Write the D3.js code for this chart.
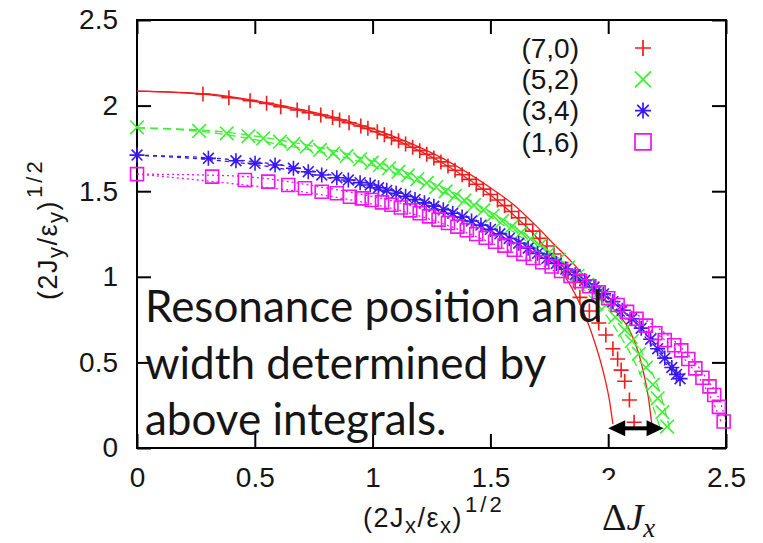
<!DOCTYPE html>
<html>
<head>
<meta charset="utf-8">
<script src="https://cdn.jsdelivr.net/npm/d3@7"></script>
<style>
body { margin: 0; background: #fff; }
svg { display: block; }
text { font-family: "Liberation Sans", Arial, sans-serif; fill: #151515; }
</style>
</head>
<body>
<svg></svg>
<script>
// series labels and colours
const seriesNames = ["(7,0)", "(5,2)", "(3,4)", "(1,6)"];
const seriesColors = ["#f01c1c", "#3cf032", "#3a18f2", "#f014f0"];
const seriesMarkers = ["plus", "times", "star", "square"];
const seriesDash = [null, "8,5", "4,4", "2,3"];

const xTicks = [0, 0.5, 1, 1.5, 2, 2.5];
const yTicks = [0, 0.5, 1, 1.5, 2, 2.5];

// (7,0) points
const redX = [0.28,0.39,0.48,0.55,0.61,0.68,0.73,0.78,0.83,0.86,0.90,0.95,0.98,1.02,1.05,1.08,1.11,1.14,1.17,1.20,1.23,1.26,1.29,1.32,1.35,1.38,1.41,1.44,1.47,1.50,1.53,1.56,1.59,1.62,1.65,1.68,1.71,1.74,1.77,1.80,1.83,1.86,1.88,1.92,1.96,1.99,2.02,2.04,2.055,2.07,2.09,2.11];
const redY = [2.068,2.046,2.029,2.013,1.994,1.974,1.958,1.945,1.930,1.916,1.900,1.881,1.867,1.847,1.830,1.812,1.795,1.776,1.757,1.737,1.716,1.694,1.671,1.647,1.622,1.596,1.569,1.541,1.512,1.481,1.449,1.416,1.381,1.345,1.307,1.267,1.225,1.180,1.133,1.083,1.028,0.968,0.88,0.80,0.73,0.66,0.58,0.52,0.455,0.39,0.28,0.15];
const redUpper = [[0,2.085],[0.3,2.068],[0.6,2.004],[0.9,1.908],[1.1,1.815],[1.3,1.69],[1.5,1.52],[1.6,1.42],[1.7,1.29],[1.77,1.19],[1.85,1.08],[1.92,0.97],[2.0,0.84],[2.05,0.77],[2.09,0.69],[2.13,0.55],[2.15,0.44],[2.17,0.3],[2.185,0.14]];
const redLower = [[0,2.085],[0.3,2.064],[0.6,1.997],[0.9,1.898],[1.1,1.798],[1.3,1.662],[1.5,1.478],[1.6,1.36],[1.7,1.225],[1.8,1.04],[1.87,0.87],[1.93,0.67],[1.98,0.44],[2.005,0.28],[2.02,0.14]];

// (5,2) points
const greenX = [0,0.264,0.381,0.473,0.536,0.607,0.664,0.72,0.777,0.833,0.89,0.947,0.996,1.031,1.07,1.11,1.15,1.19,1.23,1.27,1.31,1.35,1.39,1.43,1.47,1.51,1.55,1.59,1.63,1.67,1.71,1.75,1.79,1.83,1.87,1.91,1.95,1.99,2.03,2.07,2.10,2.13,2.16,2.19,2.21,2.23,2.25];
const greenY = [1.873,1.852,1.838,1.822,1.809,1.789,1.776,1.760,1.741,1.721,1.706,1.686,1.667,1.653,1.634,1.614,1.593,1.571,1.548,1.524,1.499,1.473,1.446,1.418,1.389,1.358,1.326,1.293,1.258,1.221,1.183,1.143,1.100,1.055,1.006,0.953,0.896,0.834,0.765,0.69,0.625,0.55,0.47,0.37,0.29,0.21,0.125];
const greenUpper = [[0,1.87],[0.3,1.855],[0.6,1.80],[0.9,1.715],[1.2,1.58],[1.5,1.38],[1.7,1.20],[1.9,0.98],[2.05,0.76],[2.15,0.54],[2.22,0.32],[2.26,0.12]];
const greenLower = [[0,1.87],[0.3,1.845],[0.6,1.775],[0.9,1.69],[1.2,1.55],[1.5,1.35],[1.7,1.16],[1.9,0.92],[2.03,0.70],[2.12,0.48],[2.18,0.28],[2.22,0.12]];

// (3,4) points
const blueX = [0,0.303,0.42,0.501,0.586,0.664,0.727,0.784,0.848,0.897,0.947,0.99,1.025,1.06,1.10,1.14,1.18,1.22,1.26,1.30,1.34,1.38,1.42,1.46,1.50,1.54,1.58,1.62,1.66,1.70,1.74,1.78,1.82,1.86,1.90,1.94,1.98,2.02,2.06,2.10,2.14,2.18,2.21,2.24,2.27,2.29,2.305];
const blueY = [1.711,1.692,1.678,1.663,1.653,1.634,1.614,1.595,1.579,1.565,1.550,1.536,1.520,1.505,1.488,1.470,1.451,1.432,1.412,1.392,1.371,1.349,1.326,1.302,1.277,1.251,1.224,1.196,1.167,1.137,1.108,1.078,1.045,1.012,0.978,0.94,0.90,0.855,0.805,0.755,0.70,0.635,0.58,0.525,0.47,0.43,0.405];
const blueUpper = [[0,1.71],[0.3,1.695],[0.6,1.655],[0.9,1.57],[1.2,1.455],[1.5,1.29],[1.8,1.08],[2.0,0.89],[2.15,0.70],[2.25,0.53],[2.31,0.40]];
const blueLower = [[0,1.71],[0.3,1.685],[0.6,1.635],[0.9,1.55],[1.2,1.435],[1.5,1.265],[1.8,1.05],[2.0,0.85],[2.15,0.66],[2.24,0.50],[2.30,0.40]];

// (1,6) points
const magentaX = [0,0.319,0.458,0.557,0.642,0.713,0.784,0.848,0.904,0.954,0.996,1.04,1.08,1.12,1.16,1.20,1.24,1.28,1.32,1.36,1.40,1.44,1.48,1.52,1.56,1.60,1.64,1.68,1.72,1.76,1.80,1.84,1.88,1.92,1.96,2.00,2.04,2.08,2.12,2.16,2.20,2.24,2.28,2.31,2.34,2.37,2.40,2.43,2.45,2.47,2.49];
const magentaY = [1.600,1.585,1.565,1.556,1.536,1.517,1.497,1.488,1.468,1.458,1.449,1.435,1.421,1.405,1.388,1.371,1.353,1.334,1.314,1.293,1.272,1.250,1.228,1.205,1.182,1.158,1.134,1.110,1.085,1.060,1.034,1.005,0.975,0.945,0.91,0.875,0.835,0.795,0.755,0.715,0.67,0.63,0.60,0.57,0.52,0.465,0.41,0.36,0.31,0.24,0.155];
const magentaUpper = [[0,1.60],[0.4,1.59],[0.8,1.52],[1.2,1.40],[1.6,1.19],[1.9,0.99],[2.1,0.80],[2.3,0.60],[2.42,0.40],[2.48,0.25],[2.5,0.15]];
const magentaLower = [[0,1.60],[0.4,1.545],[0.8,1.475],[1.2,1.355],[1.6,1.14],[1.9,0.94],[2.1,0.76],[2.3,0.555],[2.4,0.38],[2.46,0.22],[2.48,0.15]];

// annotation
const noteLines = ["Resonance position and", "width determined by", "above integrals."];
const arrowX = [2.0, 2.235];
const arrowY = 0.115;

const width = 763;
const height = 543;
const marginLeft = 137;
const marginTop = 20;
const plotW = 589;
const plotH = 428;

let svg = d3.select("svg")
  .attr("width", width)
  .attr("height", height);

let scaleX = d3.scaleLinear().domain([0, 2.5]).range([marginLeft, marginLeft + plotW]);
let scaleY = d3.scaleLinear().domain([0, 2.5]).range([marginTop + plotH, marginTop]);

// axes with inward ticks on all four sides
svg.append("g")
  .attr("transform", `translate(0, ${marginTop + plotH})`)
  .call(d3.axisBottom(scaleX).tickValues(xTicks).tickSize(-14).tickPadding(19).tickFormat(d3.format("")));
svg.append("g")
  .attr("transform", `translate(0, ${marginTop})`)
  .call(d3.axisTop(scaleX).tickValues(xTicks).tickSize(-14).tickFormat(""));
svg.append("g")
  .attr("transform", `translate(${marginLeft}, 0)`)
  .call(d3.axisLeft(scaleY).tickValues(yTicks).tickSize(-14).tickPadding(19).tickFormat(d3.format("")));
svg.append("g")
  .attr("transform", `translate(${marginLeft + plotW}, 0)`)
  .call(d3.axisRight(scaleY).tickValues(yTicks).tickSize(-14).tickFormat(""));

svg.selectAll(".domain").remove();
svg.selectAll(".tick line").attr("stroke", "#000").attr("stroke-width", 2);
svg.selectAll(".tick text")
  .style("font-family", '"Liberation Sans", Arial, sans-serif')
  .style("font-size", "28px")
  .attr("fill", "#151515");

svg.append("rect")
  .attr("x", marginLeft).attr("y", marginTop)
  .attr("width", plotW).attr("height", plotH)
  .attr("fill", "none").attr("stroke", "#000").attr("stroke-width", 2);

// marker shapes
function markerPath(type, r) {
  if (type == "plus") return `M${-r},0H${r}M0,${-r}V${r}`;
  if (type == "times") return `M${-r},${-r}L${r},${r}M${-r},${r}L${r},${-r}`;
  if (type == "star") {
    let a = r * 0.72;
    return `M${-r},0H${r}M0,${-r}V${r}M${-a},${-a}L${a},${a}M${-a},${a}L${a},${-a}`;
  }
  return `M${-r},${-r}H${r}V${r}H${-r}Z`;
}
const markerSize = {plus: 7.5, times: 6.8, star: 7.5, square: 6.5};

let line = d3.line()
  .x(d => scaleX(d[0]))
  .y(d => scaleY(d[1]))
  .curve(d3.curveMonotoneX);

const seriesData = [
  {xs: redX, ys: redY, lines: [redUpper, redLower]},
  {xs: greenX, ys: greenY, lines: [greenUpper, greenLower]},
  {xs: blueX, ys: blueY, lines: [blueUpper, blueLower]},
  {xs: magentaX, ys: magentaY, lines: [magentaUpper, magentaLower]}
];

seriesData.forEach(function(s, i) {
  let g = svg.append("g");
  g.selectAll("path.curve")
    .data(s.lines)
    .enter().append("path")
    .attr("class", "curve")
    .attr("d", line)
    .attr("fill", "none")
    .attr("stroke", seriesColors[i])
    .attr("stroke-width", 1.3)
    .attr("stroke-dasharray", seriesDash[i]);

  let pts = s.xs.map((x, k) => [x, s.ys[k]]);
  g.selectAll("path.pt")
    .data(pts)
    .enter().append("path")
    .attr("class", "pt")
    .attr("transform", d => `translate(${scaleX(d[0])}, ${scaleY(d[1])})`)
    .attr("d", markerPath(seriesMarkers[i], markerSize[seriesMarkers[i]]))
    .attr("fill", "none")
    .attr("stroke", seriesColors[i])
    .attr("stroke-width", 1.6);
});

// legend
let legend = svg.append("g").attr("transform", "translate(579, 48)");
seriesNames.forEach(function(name, i) {
  legend.append("text")
    .attr("x", 0).attr("y", i * 31.3)
    .attr("dy", "0.35em")
    .attr("text-anchor", "end")
    .style("font-size", "28px")
    .text(name);
  legend.append("path")
    .attr("transform", `translate(64, ${i * 31.3})`)
    .attr("d", markerPath(seriesMarkers[i], 8))
    .attr("fill", "none")
    .attr("stroke", seriesColors[i])
    .attr("stroke-width", 1.7);
});

// axis titles
function axisTitle(sel, sub) {
  sel.style("font-size", "27px").style("letter-spacing", "1.5px");
  sel.append("tspan").text("(2J");
  sel.append("tspan").attr("dy", 6).style("font-size", "22px").text(sub);
  sel.append("tspan").attr("dy", -6).text("/ε");
  sel.append("tspan").attr("dy", 6).style("font-size", "22px").text(sub);
  sel.append("tspan").attr("dy", -6).text(")");
  sel.append("tspan").attr("dy", -15).attr("dx", 2).style("font-size", "22px")
    .style("letter-spacing", "3px").text("1/2");
}
axisTitle(svg.append("text").attr("x", 363).attr("y", 527), "x");
axisTitle(svg.append("text").attr("transform", "translate(57, 300) rotate(-90)"), "y");

// note text over the plot
svg.append("g").selectAll("text")
  .data(noteLines)
  .enter().append("text")
  .attr("x", 145)
  .attr("y", (d, i) => 322 + i * 56.5)
  .style("font-family", "Lato, 'Open Sans', sans-serif")
  .style("font-size", "44px")
  .attr("fill", "#000")
  .text(d => d);

// double arrow
let ax0 = scaleX(arrowX[0]), ax1 = scaleX(arrowX[1]), ay = scaleY(arrowY);
svg.append("line")
  .attr("x1", ax0 + 12).attr("x2", ax1 - 12)
  .attr("y1", ay).attr("y2", ay)
  .attr("stroke", "#000").attr("stroke-width", 4);
svg.append("path")
  .attr("d", `M${ax0},${ay}L${ax0 + 17},${ay - 8}L${ax0 + 17},${ay + 8}Z M${ax1},${ay}L${ax1 - 17},${ay - 8}L${ax1 - 17},${ay + 8}Z`)
  .attr("fill", "#000");

// pasted Delta J_x label with its white box
svg.append("rect")
  .attr("x", 590).attr("y", 480).attr("width", 110).attr("height", 63)
  .attr("fill", "#fff");
let dj = svg.append("text")
  .attr("x", 602).attr("y", 530)
  .style("font-family", '"Liberation Serif", "DejaVu Serif", serif')
  .style("font-size", "38px")
  .attr("fill", "#222");
dj.append("tspan").text("Δ");
dj.append("tspan").style("font-style", "italic").text("J");
dj.append("tspan").attr("dy", 7).style("font-style", "italic").style("font-size", "27px").text("x");
</script>
</body>
</html>
